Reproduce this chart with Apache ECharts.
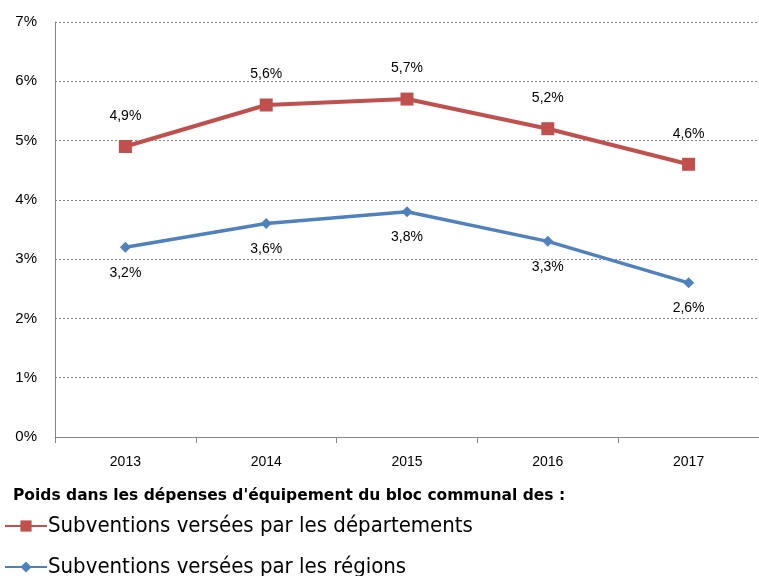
<!DOCTYPE html>
<html>
<head>
<meta charset="utf-8">
<script src="https://cdn.jsdelivr.net/npm/echarts@6/dist/echarts.min.js"></script>
<style>
  html, body { margin: 0; padding: 0; background: #fff; }
  #chart { width: 759px; height: 576px; }
</style>
</head>
<body>
<div id="chart"></div>
<script>
// Share of the municipal bloc's capital spending (%)
const years = ['2013', '2014', '2015', '2016', '2017'];
const departements = [4.9, 5.6, 5.7, 5.2, 4.6];
const regions = [3.2, 3.6, 3.8, 3.3, 2.6];
const yTicks = [0, 1, 2, 3, 4, 5, 6, 7];

const legendTitle = "Poids dans les dépenses d'équipement du bloc communal des :";
const nameDep = 'Subventions versées par les départements';
const nameReg = 'Subventions versées par les régions';

const pct = v => String(v).replace('.', ',') + '%';

const legendText = { fontFamily: 'DejaVu Sans Condensed', fontSize: 22, color: '#000', padding: [0, 0, 0, -4] };
const legendBase = {
  orient: 'vertical',
  left: 4,
  itemWidth: 42,
  itemHeight: 14,
  itemGap: 0,
  padding: 0,
  textStyle: legendText
};

const chart = echarts.init(document.getElementById('chart'), null, { renderer: 'canvas' });
chart.setOption({
  animation: false,
  backgroundColor: '#ffffff',
  title: {
    text: legendTitle,
    left: 8,
    top: 483,
    textStyle: { fontFamily: 'DejaVu Sans', fontWeight: 'bold', fontSize: 15.5, color: '#000' }
  },
  legend: [
    Object.assign({}, legendBase, { top: 515, data: [nameDep] }),
    Object.assign({}, legendBase, { top: 556, data: [nameReg] })
  ],
  grid: { left: 55, right: -5, top: 22, bottom: 139, containLabel: false },
  xAxis: {
    type: 'category',
    data: years,
    boundaryGap: true,
    axisLine: { lineStyle: { color: '#868686', width: 1 } },
    axisTick: { show: true, length: 6, lineStyle: { color: '#868686' } },
    axisLabel: { fontFamily: 'Liberation Sans', fontSize: 14, color: '#000', margin: 18 }
  },
  yAxis: {
    type: 'value',
    min: yTicks[0],
    max: yTicks[yTicks.length - 1],
    interval: 1,
    axisLine: { show: true, lineStyle: { color: '#868686', width: 1 } },
    axisTick: { show: false },
    splitLine: { lineStyle: { color: '#868686', type: [2, 2], width: 1 } },
    axisLabel: { fontFamily: 'Liberation Sans', fontSize: 15, color: '#000', margin: 18, formatter: v => v + '%' }
  },
  series: [
    {
      name: nameDep,
      type: 'line',
      data: departements,
      symbol: 'rect',
      symbolSize: 13,
      itemStyle: { color: '#C0504D' },
      lineStyle: { color: '#C0504D', width: 4 },
      label: {
        show: true, position: 'top', distance: 17,
        fontFamily: 'Liberation Sans', fontSize: 14, color: '#000',
        formatter: p => pct(p.value)
      }
    },
    {
      name: nameReg,
      type: 'line',
      data: regions,
      symbol: 'diamond',
      symbolSize: 11,
      itemStyle: { color: '#4F81BD' },
      lineStyle: { color: '#4F81BD', width: 3.5 },
      label: {
        show: true, position: 'bottom', distance: 13,
        fontFamily: 'Liberation Sans', fontSize: 14, color: '#000',
        formatter: p => pct(p.value)
      }
    }
  ]
});
</script>
</body>
</html>
